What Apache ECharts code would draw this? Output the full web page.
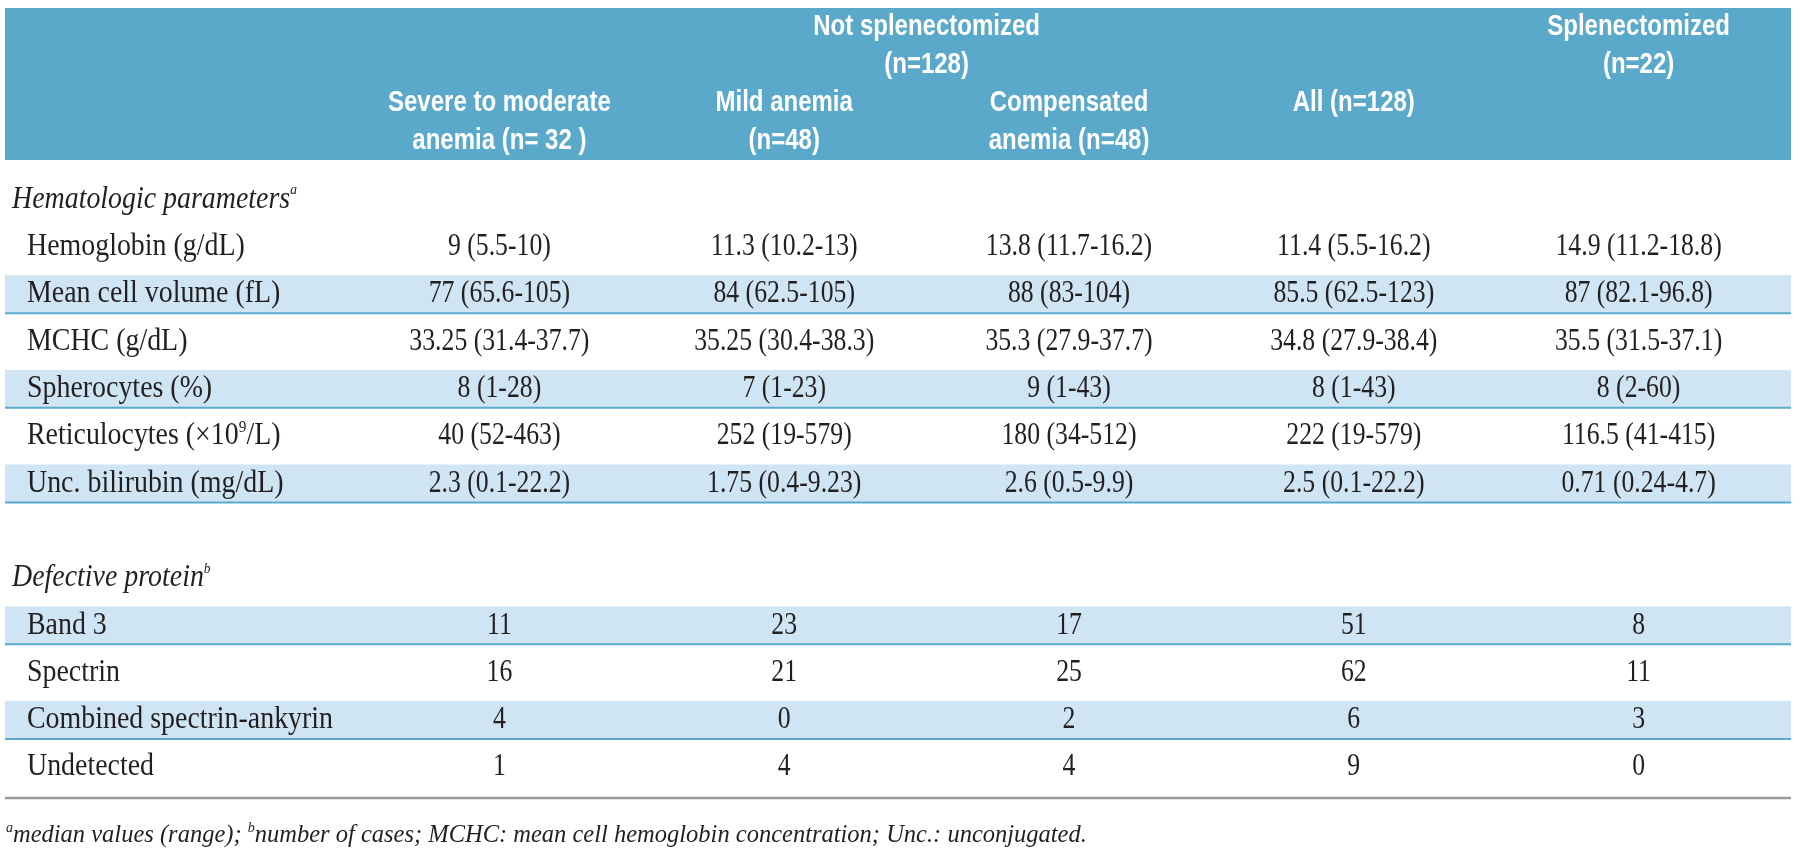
<!DOCTYPE html>
<html>
<head>
<meta charset="utf-8">
<title>Hereditary spherocytosis table</title>
<script src="https://cdn.jsdelivr.net/npm/echarts@6/dist/echarts.min.js"></script>
<style>
  html, body { margin: 0; padding: 0; background: #fff; }
  #chart { width: 1800px; height: 851px; }
</style>
</head>
<body>
<div id="chart"></div>
<script>
// ---- data ----
var columns = ['Severe to moderate anemia (n= 32 )', 'Mild anemia (n=48)', 'Compensated anemia (n=48)', 'All (n=128)', 'Splenectomized (n=22)'];

// header lines: [first column, last column, header line, text]
var headerCells = [
  [0, 3, 0, 'Not splenectomized'],
  [0, 3, 1, '(n=128)'],
  [4, 4, 0, 'Splenectomized'],
  [4, 4, 1, '(n=22)'],
  [0, 0, 2, 'Severe to moderate'],
  [0, 0, 3, 'anemia (n= 32 )'],
  [1, 1, 2, 'Mild anemia'],
  [1, 1, 3, '(n=48)'],
  [2, 2, 2, 'Compensated'],
  [2, 2, 3, 'anemia (n=48)'],
  [3, 3, 2, 'All (n=128)']
];
var headerLines = ['l1', 'l2', 'l3', 'l4'];

// row labels ("^" marks a superscript)
var rows = [
  'Hematologic parameters^a',
  'Hemoglobin (g/dL)',
  'Mean cell volume (fL)',
  'MCHC (g/dL)',
  'Spherocytes (%)',
  'Reticulocytes (×10^9/L)',
  'Unc. bilirubin (mg/dL)',
  ' ',
  'Defective protein^b',
  'Band 3',
  'Spectrin',
  'Combined spectrin-ankyrin',
  'Undetected'
];
var sections = ['Hematologic parameters^a', 'Defective protein^b'];
var shadedRows = ['Mean cell volume (fL)', 'Spherocytes (%)', 'Unc. bilirubin (mg/dL)', 'Band 3', 'Combined spectrin-ankyrin'];

// median (range)
var hemoglobin    = ['9 (5.5-10)', '11.3 (10.2-13)', '13.8 (11.7-16.2)', '11.4 (5.5-16.2)', '14.9 (11.2-18.8)'];
var meanCellVol   = ['77 (65.6-105)', '84 (62.5-105)', '88 (83-104)', '85.5 (62.5-123)', '87 (82.1-96.8)'];
var mchc          = ['33.25 (31.4-37.7)', '35.25 (30.4-38.3)', '35.3 (27.9-37.7)', '34.8 (27.9-38.4)', '35.5 (31.5-37.1)'];
var spherocytes   = ['8 (1-28)', '7 (1-23)', '9 (1-43)', '8 (1-43)', '8 (2-60)'];
var reticulocytes = ['40 (52-463)', '252 (19-579)', '180 (34-512)', '222 (19-579)', '116.5 (41-415)'];
var bilirubin     = ['2.3 (0.1-22.2)', '1.75 (0.4-9.23)', '2.6 (0.5-9.9)', '2.5 (0.1-22.2)', '0.71 (0.24-4.7)'];
// number of cases
var band3       = [11, 23, 17, 51, 8];
var spectrin    = [16, 21, 25, 62, 11];
var combined    = [4, 0, 2, 6, 3];
var undetected  = [1, 4, 4, 9, 0];

var footnote = '^amedian values (range); ^bnumber of cases; MCHC: mean cell hemoglobin concentration; Unc.: unconjugated.';

// ---- build cells ----
var rowValues = {
  'Hemoglobin (g/dL)': hemoglobin,
  'Mean cell volume (fL)': meanCellVol,
  'MCHC (g/dL)': mchc,
  'Spherocytes (%)': spherocytes,
  'Reticulocytes (×10^9/L)': reticulocytes,
  'Unc. bilirubin (mg/dL)': bilirubin,
  'Band 3': band3,
  'Spectrin': spectrin,
  'Combined spectrin-ankyrin': combined,
  'Undetected': undetected
};
var cells = [];
rows.forEach(function (r) {
  var vals = rowValues[r];
  if (!vals) return;
  vals.forEach(function (v, i) { cells.push([columns[i], r, String(v)]); });
});
var labelRows = rows.filter(function (r) { return r.trim() !== ''; });

// ---- styles ----
var HEADER_BLUE = '#5aa9ca';
var SHADE = '#cfe5f3';
var RULE_BLUE = '#5aaacb';
var INK = '#231f20';
var SERIF = '"Liberation Serif", "DejaVu Serif", serif';
var SANS = '"Liberation Sans", Arial, sans-serif';
var TABLE_LEFT = 5;
var TABLE_RIGHT_GAP = 9;

// "abc^9def" -> rich text
function toRich(text, st, sup) {
  var parts = text.split('^');
  var out = parts[0] ? '{' + st + '|' + parts[0] + '}' : '';
  for (var i = 1; i < parts.length; i++) {
    out += '{' + sup + '|' + parts[i].charAt(0) + '}';
    if (parts[i].length > 1) out += '{' + st + '|' + parts[i].slice(1) + '}';
  }
  return out;
}

function tok(size, style, lh, va) {
  var t = { fontFamily: SERIF, fontSize: size, fontStyle: style || 'normal', fontWeight: 'normal',
            fill: INK, color: INK, lineHeight: lh };
  if (va) t.verticalAlign = va;
  return t;
}
var labelRich = {
  sec: tok(31, 'italic', 34),
  ssup: tok(15, 'italic', 15, 'top'),
  lab: tok(31, 'normal', 34),
  lsup: tok(17, 'normal', 17, 'top')
};

function tableRight(api) { return api.getWidth() - TABLE_RIGHT_GAP; }

var chart = echarts.init(document.getElementById('chart'));

chart.setOption({
  backgroundColor: '#fff',
  animation: false,
  title: {
    left: 6,
    top: 821,
    padding: 0,
    text: toRich(footnote, 'it', 'sup'),
    textStyle: {
      rich: {
        it: { fontFamily: SERIF, fontStyle: 'italic', fontWeight: 'normal', fontSize: 24.5, color: INK, lineHeight: 30 },
        sup: { fontFamily: SERIF, fontStyle: 'italic', fontWeight: 'normal', fontSize: 14, color: INK, lineHeight: 14, verticalAlign: 'top' }
      }
    }
  },
  grid: [
    { left: 357, right: 19, top: 176, bottom: 60 },
    { left: 357, right: 19, top: 8, height: 152 }
  ],
  xAxis: [
    { type: 'category', gridIndex: 0, data: columns, show: false },
    { type: 'category', gridIndex: 1, data: columns, show: false }
  ],
  yAxis: [
    { type: 'category', gridIndex: 0, data: rows, inverse: true, show: false },
    { type: 'category', gridIndex: 1, data: headerLines, inverse: true, show: false }
  ],
  series: [
    {
      // header band
      type: 'custom', xAxisIndex: 1, yAxisIndex: 1, z: 1,
      data: [[columns[0], headerLines[0]]],
      renderItem: function (params, api) {
        var cs = params.coordSys;
        return {
          type: 'rect',
          shape: { x: TABLE_LEFT, y: cs.y, width: tableRight(api) - TABLE_LEFT, height: cs.height },
          style: { fill: HEADER_BLUE }
        };
      }
    },
    {
      // header texts
      type: 'custom', xAxisIndex: 1, yAxisIndex: 1, z: 3,
      data: headerCells.map(function (h) { return [h[0], h[1], h[2]]; }),
      renderItem: function (params, api) {
        var c = headerCells[params.dataIndex];
        var a = api.coord([c[0], c[2]]);
        var b = api.coord([c[1], c[2]]);
        return {
          type: 'text',
          x: (a[0] + b[0]) / 2, y: a[1],
          scaleX: 0.8,
          style: {
            text: c[3], fill: '#fff',
            font: 'bold 30px ' + SANS,
            align: 'center', verticalAlign: 'middle',
            textAlign: 'center', textVerticalAlign: 'middle'
          }
        };
      }
    },
    {
      // shaded rows
      type: 'custom', xAxisIndex: 0, yAxisIndex: 0, z: 1,
      data: shadedRows.map(function (r) { return [columns[0], r]; }),
      renderItem: function (params, api) {
        var yc = api.coord([api.value(0), api.value(1)])[1];
        var h = api.size([0, 1])[1] * 0.8;
        var right = tableRight(api);
        return {
          type: 'group',
          children: [
            { type: 'rect', shape: { x: TABLE_LEFT, y: yc - h / 2, width: right - TABLE_LEFT, height: h }, style: { fill: SHADE } },
            { type: 'line', shape: { x1: TABLE_LEFT, y1: yc + h / 2, x2: right, y2: yc + h / 2 }, style: { stroke: RULE_BLUE, lineWidth: 2 } }
          ]
        };
      }
    },
    {
      // bottom rule under last row
      type: 'custom', xAxisIndex: 0, yAxisIndex: 0, z: 1,
      data: [[columns[0], rows[rows.length - 1]]],
      renderItem: function (params, api) {
        var yc = api.coord([api.value(0), api.value(1)])[1];
        var y = yc + api.size([0, 1])[1] / 2 + 7;
        return {
          type: 'line',
          shape: { x1: TABLE_LEFT, y1: y, x2: tableRight(api), y2: y },
          style: { stroke: '#9a9a9a', lineWidth: 2.5 }
        };
      }
    },
    {
      // row labels
      type: 'custom', xAxisIndex: 0, yAxisIndex: 0, z: 3,
      data: labelRows.map(function (r) { return [columns[0], r]; }),
      renderItem: function (params, api) {
        var name = labelRows[params.dataIndex];
        var isSec = sections.indexOf(name) >= 0;
        var y = api.coord([api.value(0), api.value(1)])[1];
        return {
          type: 'text',
          x: TABLE_LEFT + (isSec ? 7 : 22), y: y,
          scaleX: 0.9,
          style: {
            text: isSec ? toRich(name, 'sec', 'ssup') : toRich(name, 'lab', 'lsup'),
            rich: labelRich,
            fill: INK,
            font: '31px ' + SERIF,
            align: 'left', verticalAlign: 'middle',
            textAlign: 'left', textVerticalAlign: 'middle'
          }
        };
      }
    },
    {
      // cell values
      type: 'custom', xAxisIndex: 0, yAxisIndex: 0, z: 3,
      data: cells.map(function (c) { return [c[0], c[1]]; }),
      renderItem: function (params, api) {
        var p = api.coord([api.value(0), api.value(1)]);
        return {
          type: 'text',
          x: p[0], y: p[1],
          scaleX: 0.83,
          style: {
            text: cells[params.dataIndex][2], fill: INK,
            font: '31px ' + SERIF,
            align: 'center', verticalAlign: 'middle',
            textAlign: 'center', textVerticalAlign: 'middle'
          }
        };
      }
    }
  ]
});
</script>
</body>
</html>
